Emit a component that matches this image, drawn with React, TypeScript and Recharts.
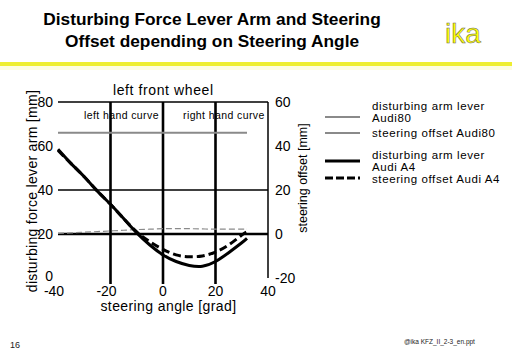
import { Line, LineChart, ReferenceLine, XAxis, YAxis } from "recharts"

const FONT = "'Liberation Sans', Arial, sans-serif"
const GRAY = "#8a8a8a"

// steering angle [grad]
const angles = [-40, -35, -30, -25, -20, -15, -10, -5, 0, 5, 10, 15, 20, 25, 30, 32]
// disturbing force lever arm [mm] (left axis)
const leverA80 = [66, 66, 66, 66, 66, 66, 66, 66, 66, 66, 66, 66, 66, 66, 66, 66]
const leverA4 = [58.5, 52, 46, 39.5, 33.5, 27, 20.5, 15, 10.5, 7.5, 5.7, 5.3, 7.5, 11.5, 16, 18]
// steering offset [mm] (right axis)
const offsetA80 = [0.3, 0.5, 0.8, 1.1, 1.4, 1.7, 2, 2.2, 2.4, 2.4, 2.4, 2.3, 2.2, 2.2, 2.2, 2.2]
const offsetA4 = [38, 32, 26, 19.5, 13.5, 7, 1, -3.5, -7, -9.5, -10.3, -10, -8.2, -5, -0.5, 1]

const xTicks = [-40, -20, 0, 20, 40]
const leftTicks = [0, 20, 40, 60, 80]
const rightTicks = [-20, 0, 20, 40, 60]

const legendItems = [
  { label: ["disturbing arm lever", "Audi80"], color: GRAY, dash: undefined, w: 2 },
  { label: ["steering offset Audi80"], color: GRAY, dash: undefined, w: 2 },
  { label: ["disturbing arm lever", "Audi A4"], color: "#000", dash: undefined, w: 3 },
  { label: ["steering offset Audi A4"], color: "#000", dash: "8 3", w: 3 },
]

const data = angles.map((a, i) => ({
  a,
  leverA80: leverA80[i],
  offsetA80: offsetA80[i],
  leverA4: leverA4[i],
  offsetA4: offsetA4[i],
}))

const tickStyle = { fontSize: 14, fill: "#000", fontFamily: FONT }

// digits centred on the grid line, minus sign hanging to the left
function XTick(props: any) {
  const { x, y, payload } = props
  const v = payload.value
  return (
    <g>
      {v > -40 && v < 40 && <line x1={x} x2={x} y1={y - 5} y2={y + 1} stroke="#000" strokeWidth={2.6} />}
      <text x={x} y={y} dy={13} dx={v < 0 ? -4 : 0} textAnchor="middle" fontSize={14} fontFamily={FONT} fill="#000">
        {v}
      </text>
    </g>
  )
}

// the 0 sits a little above the corner so it clears the -40 below it
function LeftTick(props: any) {
  const { x, y, payload } = props
  const v = payload.value
  return (
    <text x={x} y={y} dy={v === 0 ? 3 : 5} textAnchor="end" fontSize={14} fontFamily={FONT} fill="#000">
      {v}
    </text>
  )
}

function abs(left: number, top: number, extra: any = {}) {
  return { position: "absolute" as const, left, top, fontFamily: FONT, color: "#000", whiteSpace: "nowrap" as const, ...extra }
}

export default function App() {
  return (
    <div style={{ position: "fixed", left: 0, top: 0, width: 512, height: 354, background: "#fff", overflow: "hidden" }}>
      {/* title */}
      <div style={abs(0, 9, { width: 424, textAlign: "center", fontSize: 17.3, fontWeight: "bold", lineHeight: "21.5px" })}>
        Disturbing Force Lever Arm and Steering
        <br />
        Offset depending on Steering Angle
      </div>
      <svg style={{ position: "absolute", left: 0, top: 0 }} width={512} height={80}>
        <text x={463} y={43} textAnchor="middle" fontSize={28} fontFamily={FONT} fill="#ffff00" stroke="#666" strokeWidth={0.5}>
          ika
        </text>
        <rect x={0} y={66} width={512} height={4} fill="#fdfde0" />
        <rect x={0} y={62} width={512} height={4} fill="#eeee30" />
      </svg>

      <div style={{ position: "absolute", left: 0, top: 0 }}>
        <LineChart width={512} height={354} data={data} margin={{ top: 102, left: 38, right: 210, bottom: 56 }}>
          <XAxis
            dataKey="a"
            type="number"
            domain={[-40, 40]}
            ticks={xTicks}
            axisLine={false}
            tickLine={false}
            tickSize={5}
            tickMargin={0}
            height={20}
            tick={<XTick />}
          />
          <YAxis
            yAxisId="left"
            domain={[0, 80]}
            ticks={leftTicks}
            axisLine={false}
            tickLine={false}
            tickSize={3}
            tickMargin={2}
            width={20}
            tick={<LeftTick />}
          />
          <YAxis
            yAxisId="right"
            orientation="right"
            domain={[-20, 60]}
            ticks={rightTicks}
            axisLine={{ stroke: "#000", strokeWidth: 1.5 }}
            tickLine={false}
            tickSize={5}
            tickMargin={2}
            width={34}
            tick={tickStyle}
          />
          <ReferenceLine yAxisId="left" y={80} stroke="#000" strokeWidth={1.3} />
          <ReferenceLine yAxisId="left" y={40} stroke="#000" strokeWidth={1.3} />
          <ReferenceLine yAxisId="left" y={20} stroke="#000" strokeWidth={2.6} />
          <ReferenceLine yAxisId="left" x={-20} stroke="#000" strokeWidth={2.6} />
          <ReferenceLine yAxisId="left" x={0} stroke="#000" strokeWidth={2.6} />
          <ReferenceLine yAxisId="left" x={20} stroke="#000" strokeWidth={2.6} />
          <Line yAxisId="left" type="natural" dataKey="leverA80" stroke={GRAY} strokeWidth={2} dot={false} isAnimationActive={false} />
          <Line yAxisId="right" type="natural" dataKey="offsetA80" stroke={GRAY} strokeWidth={1.2} strokeDasharray="6 3" dot={false} isAnimationActive={false} />
          <Line yAxisId="left" type="natural" dataKey="leverA4" stroke="#000" strokeWidth={3} dot={false} isAnimationActive={false} />
          <Line yAxisId="right" type="natural" dataKey="offsetA4" stroke="#000" strokeWidth={3} strokeDasharray="8 4" dot={false} isAnimationActive={false} />
        </LineChart>
      </div>

      {/* chart texts */}
      <div style={abs(113, 82, { width: 100, textAlign: "center", fontSize: 14, letterSpacing: 0.6 })}>left front wheel</div>
      <div style={abs(84, 109, { fontSize: 10.5, letterSpacing: 0.4 })}>left hand curve</div>
      <div style={abs(183, 109, { fontSize: 10.5, letterSpacing: 0.4 })}>right hand curve</div>
      <div style={abs(100, 298, { width: 137, textAlign: "center", fontSize: 14, letterSpacing: 0.4 })}>steering angle [grad]</div>
      <div
        style={abs(32, 191, {
          fontSize: 14,
          letterSpacing: 0.3,
          transform: "translate(-50%, -50%) rotate(-90deg)",
        })}
      >
        disturbing force lever arm [mm]
      </div>
      <div
        style={abs(303, 178, {
          fontSize: 12.5,
          transform: "translate(-50%, -50%) rotate(-90deg)",
        })}
      >
        steering offset [mm]
      </div>

      {/* legend */}
      <svg style={{ position: "absolute", left: 0, top: 0 }} width={512} height={354}>
        {legendItems.map((it, i) => {
          const ys = [117, 133, 161, 178]
          return <line key={i} x1={325} x2={360} y1={ys[i]} y2={ys[i]} stroke={it.color} strokeWidth={it.w} strokeDasharray={it.dash} />
        })}
      </svg>
      {legendItems.map((it, i) => {
        const tops = [100, 127, 149, 173]
        return (
          <div key={i} style={abs(372, tops[i], { fontSize: 11.5, lineHeight: "12px", letterSpacing: 0.6 })}>
            {it.label.map((l, j) => (
              <div key={j}>{l}</div>
            ))}
          </div>
        )
      })}

      {/* footer */}
      <div style={abs(10, 340, { fontSize: 9, color: "#222" })}>16</div>
      <div style={abs(404, 338, { fontSize: 6.5, color: "#222" })}>@ika KFZ_II_2-3_en.ppt</div>
    </div>
  )
}
